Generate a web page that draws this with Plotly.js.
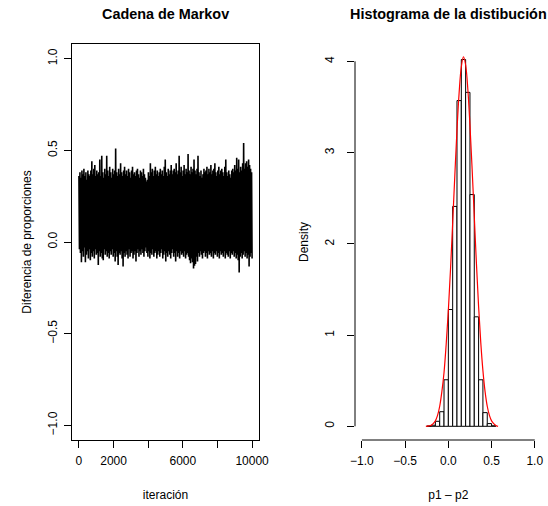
<!DOCTYPE html>
<html>
<head>
<meta charset="utf-8">
<script src="https://cdn.plot.ly/plotly-3.0.1.min.js"></script>
<style>html,body{margin:0;padding:0;background:#fff}#g{width:548px;height:506px}</style>
</head>
<body>
<div id="g"></div>
<script>
const cadena = [
0.36,-0.04, 0.38,-0.06, 0.35,-0.11, 0.39,-0.05, 0.37,-0.08, 0.40,-0.03, 0.36,-0.11, 0.38,-0.07, 0.34,-0.05, 0.39,-0.09,
0.37,-0.04, 0.36,-0.10, 0.39,-0.06, 0.44,-0.08, 0.37,-0.05, 0.40,-0.09, 0.42,-0.04, 0.36,-0.07, 0.39,-0.06, 0.37,-0.125,
0.38,-0.05, 0.45,-0.08, 0.36,-0.06, 0.47,-0.09, 0.38,-0.10, 0.35,-0.04, 0.40,-0.07, 0.37,-0.05, 0.47,-0.08, 0.39,-0.06,
0.36,-0.09, 0.41,-0.05, 0.38,-0.07, 0.35,-0.04, 0.40,-0.08, 0.37,-0.06, 0.39,-0.107, 0.51,-0.05, 0.38,-0.08, 0.36,-0.125,
0.40,-0.06, 0.37,-0.07, 0.43,-0.05, 0.38,-0.09, 0.36,-0.134, 0.39,-0.06, 0.41,-0.08, 0.37,-0.05, 0.39,-0.07, 0.36,-0.09,
0.40,-0.04, 0.38,-0.08, 0.35,-0.06, 0.39,-0.05, 0.41,-0.09, 0.37,-0.07, 0.38,-0.05, 0.36,-0.107, 0.39,-0.06, 0.40,-0.04,
0.37,-0.08, 0.35,-0.05, 0.39,-0.07, 0.38,-0.04, 0.36,-0.06, 0.40,-0.08, 0.37,-0.05, 0.35,-0.03, 0.33,-0.06, 0.34,-0.08,
0.38,-0.05, 0.36,-0.09, 0.43,-0.06, 0.38,-0.07, 0.40,-0.04, 0.36,-0.08, 0.39,-0.06, 0.41,-0.05, 0.37,-0.09, 0.39,-0.07,
0.36,-0.05, 0.38,-0.08, 0.40,-0.06, 0.37,-0.04, 0.39,-0.09, 0.36,-0.07, 0.41,-0.05, 0.45,-0.107, 0.38,-0.06, 0.36,-0.08,
0.40,-0.05, 0.37,-0.07, 0.39,-0.09, 0.42,-0.06, 0.37,-0.04, 0.39,-0.08, 0.40,-0.06, 0.38,-0.107, 0.43,-0.05, 0.37,-0.08,
0.39,-0.06, 0.47,-0.09, 0.38,-0.05, 0.41,-0.07, 0.36,-0.06, 0.39,-0.08, 0.42,-0.05, 0.37,-0.09, 0.40,-0.07, 0.38,-0.06,
0.48,-0.08, 0.39,-0.10, 0.37,-0.116, 0.41,-0.09, 0.38,-0.11, 0.40,-0.144, 0.45,-0.13, 0.39,-0.12, 0.37,-0.08, 0.40,-0.107,
0.47,-0.06, 0.38,-0.08, 0.36,-0.05, 0.39,-0.07, 0.35,-0.09, 0.37,-0.06, 0.40,-0.05, 0.38,-0.08, 0.39,-0.06, 0.41,-0.09,
0.37,-0.05, 0.40,-0.07, 0.38,-0.06, 0.42,-0.08, 0.37,-0.05, 0.39,-0.09, 0.40,-0.06, 0.43,-0.07, 0.38,-0.05, 0.36,-0.08,
0.39,-0.06, 0.41,-0.09, 0.37,-0.05, 0.39,-0.07, 0.40,-0.06, 0.38,-0.08, 0.36,-0.05, 0.41,-0.09, 0.45,-0.06, 0.38,-0.07,
0.36,-0.08, 0.39,-0.05, 0.37,-0.09, 0.35,-0.06, 0.39,-0.07, 0.40,-0.05, 0.38,-0.08, 0.42,-0.06, 0.39,-0.09, 0.46,-0.07,
0.40,-0.10, 0.45,-0.166, 0.38,-0.08, 0.41,-0.06, 0.39,-0.09, 0.43,-0.07, 0.54,-0.05, 0.40,-0.08, 0.43,-0.06, 0.44,-0.09,
0.41,-0.07, 0.45,-0.134, 0.42,-0.08, 0.40,-0.06, 0.38,-0.09
];
const nIter = 10000;

// Histogram
const cortes   = [-0.25,-0.20,-0.15,-0.10,-0.05,0.00,0.05,0.10,0.15,0.20,0.25,0.30,0.35,0.40,0.45,0.50,0.55];
const densidad = [0.003,0.012,0.055,0.16,0.51,1.28,2.41,3.57,4.02,3.66,2.54,1.20,0.51,0.15,0.03,0.006];

// Kernel density curve
const curvaX = [-0.26,-0.225,-0.2,-0.175,-0.15,-0.125,-0.1,-0.075,-0.05,-0.025,0.0,0.025,0.05,0.075,0.1,0.125,0.15,0.175,0.2,0.225,0.25,0.275,0.3,0.325,0.35,0.375,0.4,0.425,0.45,0.475,0.5,0.525,0.55,0.575];
const curvaY = [0.0,0.005,0.01,0.03,0.06,0.12,0.22,0.38,0.59,0.90,1.27,1.72,2.23,2.75,3.25,3.66,3.94,4.05,3.96,3.70,3.30,2.82,2.30,1.78,1.31,0.92,0.61,0.38,0.22,0.12,0.06,0.03,0.01,0.0];

// tick labels
const xTicks1 = [0,2000,4000,6000,8000,10000];
const xText1  = ['0','2000','','6000','','10000'];
const yTicks1 = [-1,-0.5,0,0.5,1];
const yText1  = ['\u22121.0','\u22120.5','0.0','0.5','1.0'];
const xTicks2 = [-1,-0.5,0,0.5,1];
const xText2  = ['\u22121.0','\u22120.5','0.0','0.5','1.0'];
const yTicks2 = [0,1,2,3,4];
const yText2  = ['0','1','2','3','4'];

const iteracion = cadena.map((v,i)=>1 + i*(nIter-1)/(cadena.length-1));
const centros = densidad.map((d,i)=>(cortes[i]+cortes[i+1])/2);
const anchos  = densidad.map((d,i)=>cortes[i+1]-cortes[i]);

const FONT = 'Liberation Sans, Arial, Helvetica, sans-serif';
const W=548, H=506;
const pxX = p=>p/W, pxY = p=>1-p/H;

const traces = [
  {x: iteracion, y: cadena, type:'scatter', mode:'lines', line:{color:'#000', width:1.6, simplify:false}, xaxis:'x', yaxis:'y', hoverinfo:'skip'},
  {x: centros, y: densidad, width: anchos, type:'bar', marker:{color:'#fff', line:{color:'#000', width:1}}, xaxis:'x2', yaxis:'y2', hoverinfo:'skip'},
  {x: curvaX, y: curvaY, type:'scatter', mode:'lines', line:{color:'#ff0000', width:1.2, shape:'spline'}, xaxis:'x2', yaxis:'y2', hoverinfo:'skip'}
];

const axCommon = {showgrid:false, zeroline:false, ticks:'outside', ticklen:7, tickwidth:1, tickcolor:'#000',
  tickfont:{family:FONT, size:12, color:'#000'}, automargin:false, fixedrange:true};

const layout = {
  width:W, height:H, margin:{l:0,r:0,t:0,b:0}, paper_bgcolor:'#fff', plot_bgcolor:'#fff',
  showlegend:false, bargap:0, font:{family:FONT, color:'#000'},
  xaxis: Object.assign({}, axCommon, {domain:[pxX(72), pxX(259)], range:[-400,10400], anchor:'y',
    tickmode:'array', tickvals:xTicks1, ticktext:xText1, showline:true, mirror:true, linecolor:'#000', linewidth:1,
    ticklabelstandoff:3,
    title:{text:'iteración', font:{family:FONT,size:12,color:'#000'}, standoff:23}}),
  yaxis: Object.assign({}, axCommon, {domain:[1-440/H, 1-44/H], range:[-1.08,1.08], anchor:'x',
    tickmode:'array', tickvals:yTicks1, ticktext:yText1, tickangle:-90, showline:true, mirror:true, linecolor:'#000', linewidth:1,
    ticklabelstandoff:2,
    title:{text:'Diferencia de proporciones', font:{family:FONT,size:12,color:'#000'}, standoff:12}}),
  xaxis2: Object.assign({}, axCommon, {domain:[pxX(355), pxX(541.7)], range:[-1.08,1.08], anchor:'y2',
    tickmode:'array', tickvals:xTicks2, ticktext:xText2, showline:false,
    ticklabelstandoff:3,
    title:{text:'p1 \u2013 p2', font:{family:FONT,size:12,color:'#000'}, standoff:23}}),
  yaxis2: Object.assign({}, axCommon, {domain:[1-440/H, 1-44/H], range:[-0.15,4.19], anchor:'x2',
    tickmode:'array', tickvals:yTicks2, ticktext:yText2, tickangle:-90, showline:false,
    ticklabelstandoff:8,
    title:{text:'Density', font:{family:FONT,size:12,color:'#000'}, standoff:12}}),
  shapes: [
    {type:'line', xref:'x2', yref:'y2 domain', x0:-1, x1:1, y0:0, y1:0, line:{color:'#000', width:1}},
    {type:'line', xref:'x2 domain', yref:'y2', x0:0, x1:0, y0:0, y1:4, line:{color:'#000', width:1}}
  ],
  annotations: [
    {text:'<b>Cadena de Markov</b>', xref:'paper', yref:'paper', x:pxX(165.5), y:pxY(14), xanchor:'center', yanchor:'middle',
     showarrow:false, font:{family:FONT, size:14.4, color:'#000'}},
    {text:'<b>Histograma de la distibución</b>', xref:'paper', yref:'paper', x:pxX(448.3), y:pxY(14), xanchor:'center', yanchor:'middle',
     showarrow:false, font:{family:FONT, size:14.4, color:'#000'}}
  ]
};

Plotly.newPlot('g', traces, layout, {staticPlot:true, displayModeBar:false});
</script>
</body>
</html>
